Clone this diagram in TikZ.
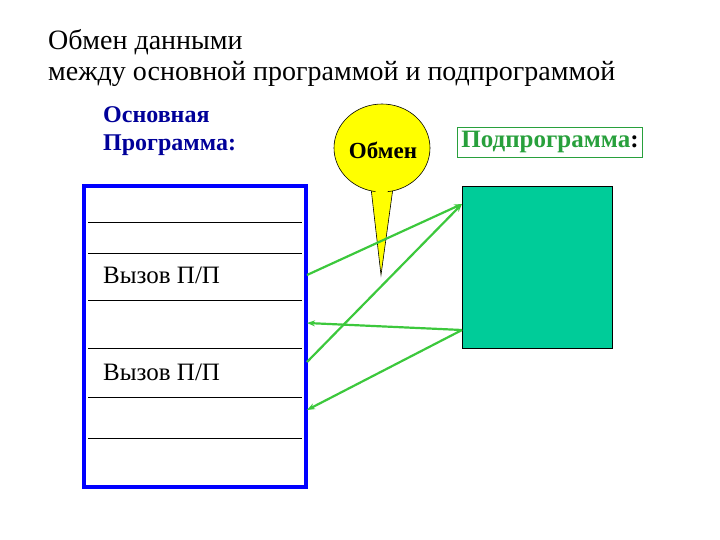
\documentclass[tikz,border=0pt]{standalone}
\usepackage{fontspec}
\setmainfont{Liberation Serif}
\usetikzlibrary{arrows.meta,shapes.geometric}
\definecolor{darkblue}{RGB}{0,0,153}
\definecolor{mgreen}{RGB}{0,204,153}
\definecolor{agreen}{RGB}{60,200,60}
\definecolor{tgreen}{RGB}{40,160,60}
\definecolor{cyel}{RGB}{255,255,0}
\begin{document}
\begin{tikzpicture}[x=1pt,y=-1pt,
  arr/.style={draw=agreen,line width=2.2pt,-{Stealth[length=8pt,width=6pt]}},
  row/.style={line width=0.7pt},
  lbl/.style={anchor=west,inner sep=0pt,font=\fontsize{25}{28}\selectfont}]
\useasboundingbox (0,0) rectangle (720,540);
\node[anchor=west,inner sep=0pt,font=\fontsize{28}{32}\selectfont] (t1) at (48,42) {Обмен данными};
\node[anchor=west,inner sep=0pt,font=\fontsize{28}{32}\selectfont] (t2) at (48,74) {между основной программой и подпрограммой};
\node[anchor=west,inner sep=0pt,text=darkblue,font=\bfseries\fontsize{24}{26}\selectfont] (m1) at (103,115) {Основная};
\node[anchor=west,inner sep=0pt,text=darkblue,font=\bfseries\fontsize{24}{26}\selectfont] (m2) at (103,145) {Программа:};
% main program box
\draw[draw=blue,line width=4pt] (84,186) rectangle (306,487);
\foreach \yy in {222,253,300,348,397,438} \draw[row] (88,\yy) -- (302,\yy);
\node[lbl] (c1) at (103,275) {Вызов П/П};
\node[lbl] (c2) at (103,372) {Вызов П/П};
% callout
\draw[fill=cyel,line width=0.6pt] (371,188) -- (381,275) -- (393,188);
\node[draw,fill=cyel,ellipse,minimum width=96pt,minimum height=88pt,line width=0.6pt] (ex) at (382,148) {};
\fill[cyel] (372,186) -- (381,200) -- (392,186) -- cycle;
\node[font=\bfseries\fontsize{23}{26}\selectfont] (ob) at (383,150) {Обмен};
% subprogram
\node[draw=tgreen,line width=0.6pt,inner sep=4pt,font=\bfseries\fontsize{25}{28}\selectfont] (sp) at (550,142) {\textcolor{tgreen}{Подпрограмма}:};
\draw[fill=mgreen,line width=0.6pt] (462,186) rectangle (612,348);
\coordinate (s1) at (462,204);
\coordinate (s2) at (462,330);
\coordinate (p1) at (307,275);
\coordinate (p2) at (307,323);
\coordinate (p3) at (307,362);
\coordinate (p4) at (307,410);
\draw[arr] (p1) -- (s1);
\draw[arr] (p3) -- (s1);
\draw[arr] (s2) -- (p2);
\draw[arr] (s2) -- (p4);
\end{tikzpicture}
\end{document}
